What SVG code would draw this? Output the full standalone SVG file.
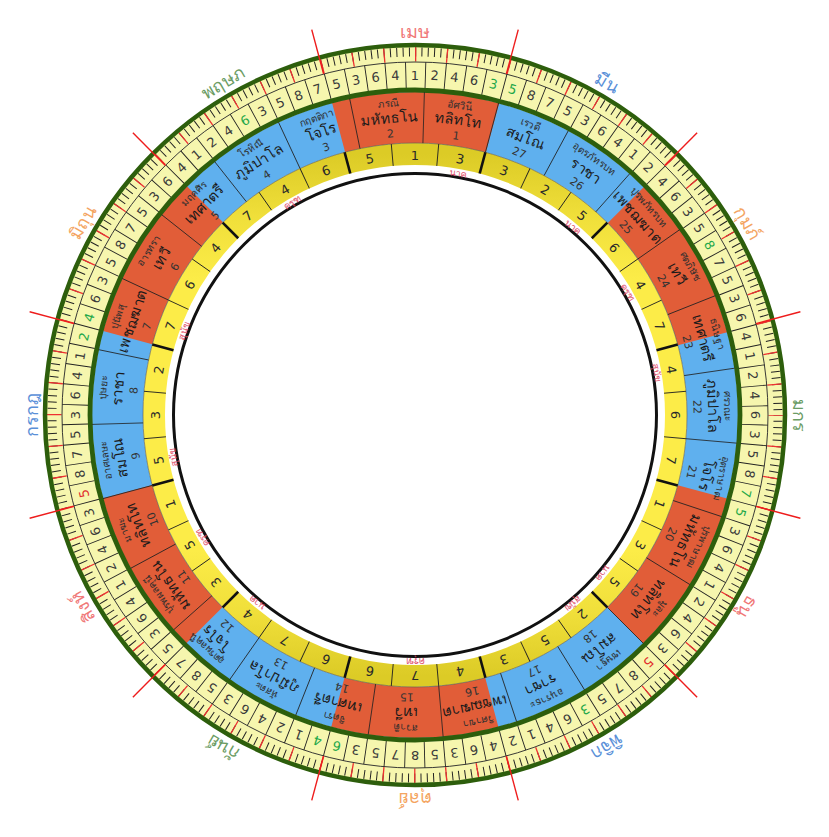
<svg xmlns="http://www.w3.org/2000/svg" width="829" height="837" viewBox="0 0 829 837">
<style>
text{font-family:'DejaVu Sans','Noto Sans',sans-serif;text-anchor:middle;dominant-baseline:central}
.d{font-size:13px;fill:#3a3a3a}
.g{fill:#1fa84a}
.r{fill:#e02a2a}
.y{font-size:13px;fill:#2a2a2a}
.yl{font-size:9.5px;fill:#e0506a}
.nm{font-size:10px;fill:#2e2e2e}
.wd{font-size:14.5px;fill:#1a1a1a}
.nu{font-size:11px;fill:#333}
.z{font-size:18px}
.fire{fill:#f07878}.water{fill:#5a90d8}.air{fill:#f4a562}.earth{fill:#6b9c64}
</style>
<defs>
<linearGradient id="yg" gradientUnits="userSpaceOnUse" x1="0" y1="154" x2="0" y2="676">
<stop offset="0" stop-color="#dccb26"/><stop offset="0.12" stop-color="#f0df3a"/><stop offset="0.24" stop-color="#fcec48"/><stop offset="0.76" stop-color="#fcec48"/><stop offset="0.88" stop-color="#f0df3a"/><stop offset="1" stop-color="#dccb26"/>
</linearGradient>
<line id="nb" x1="415" y1="143" x2="415" y2="92" stroke="#222" stroke-width="0.8"/>
<line id="yb" x1="415" y1="165" x2="415" y2="143" stroke="#222" stroke-width="0.9"/>
<line id="ybt" x1="415" y1="165" x2="415" y2="143" stroke="#111" stroke-width="2.6"/>
<line id="zl" x1="415" y1="62" x2="415" y2="16" stroke="#ee1c1c" stroke-width="1.4"/>
</defs>
<rect width="829" height="837" fill="#fff"/>
<g id="outer-rings" fill="none">
<circle cx="415" cy="415" r="361.5" stroke="#f6f6ae" stroke-width="17"/>
<circle cx="415" cy="415" r="340" stroke="#f6f6ae" stroke-width="26"/>
<circle cx="415" cy="415" r="363" stroke="#222" stroke-width="9" stroke-dasharray="1 5.33556" stroke-dashoffset="0.5"/>
<circle cx="415" cy="415" r="361" stroke="#ee3030" stroke-width="15" stroke-dasharray="1.3 30.2032" stroke-dashoffset="0.65"/>
<circle cx="415" cy="415" r="353" stroke="#222" stroke-width="0.9"/>
<circle cx="415" cy="415" r="340" stroke="#222" stroke-width="26" stroke-dasharray="0.9 18.8804" stroke-dashoffset="10.3402"/>
<circle cx="415" cy="415" r="370" stroke="#2d5e0c" stroke-width="4.5"/>
<circle cx="415" cy="415" r="297.5" stroke="#5fb0ee" stroke-width="51"/>
<circle cx="415" cy="415" r="297.5" stroke="#e15d38" stroke-width="51" stroke-dasharray="155.771 155.771" stroke-dashoffset="233.656"/>
<circle cx="415" cy="415" r="325" stroke="#2d5e0c" stroke-width="4.8"/>
<circle cx="415" cy="415" r="261" stroke="url(#yg)" stroke-width="22"/>
<circle cx="415" cy="415" r="272" stroke="#555" stroke-width="0.6"/>
<circle cx="415" cy="415" r="241.5" stroke="#111" stroke-width="3"/>
</g>
<g id="dividers">
<use href="#nb" transform="rotate(15 415 415)"/><use href="#nb" transform="rotate(28.333 415 415)"/><use href="#nb" transform="rotate(41.667 415 415)"/><use href="#nb" transform="rotate(55 415 415)"/><use href="#nb" transform="rotate(68.333 415 415)"/><use href="#nb" transform="rotate(81.667 415 415)"/><use href="#nb" transform="rotate(95 415 415)"/><use href="#nb" transform="rotate(108.333 415 415)"/><use href="#nb" transform="rotate(121.667 415 415)"/><use href="#nb" transform="rotate(135 415 415)"/><use href="#nb" transform="rotate(148.333 415 415)"/><use href="#nb" transform="rotate(161.667 415 415)"/><use href="#nb" transform="rotate(175 415 415)"/><use href="#nb" transform="rotate(188.333 415 415)"/><use href="#nb" transform="rotate(201.667 415 415)"/><use href="#nb" transform="rotate(215 415 415)"/><use href="#nb" transform="rotate(228.333 415 415)"/><use href="#nb" transform="rotate(241.667 415 415)"/><use href="#nb" transform="rotate(255 415 415)"/><use href="#nb" transform="rotate(268.333 415 415)"/><use href="#nb" transform="rotate(281.667 415 415)"/><use href="#nb" transform="rotate(295 415 415)"/><use href="#nb" transform="rotate(308.333 415 415)"/><use href="#nb" transform="rotate(321.667 415 415)"/><use href="#nb" transform="rotate(335 415 415)"/><use href="#nb" transform="rotate(348.333 415 415)"/><use href="#nb" transform="rotate(1.667 415 415)"/>
<use href="#yb" transform="rotate(5 415 415)"/><use href="#yb" transform="rotate(25 415 415)"/><use href="#yb" transform="rotate(35 415 415)"/><use href="#yb" transform="rotate(55 415 415)"/><use href="#yb" transform="rotate(65 415 415)"/><use href="#yb" transform="rotate(85 415 415)"/><use href="#yb" transform="rotate(95 415 415)"/><use href="#yb" transform="rotate(115 415 415)"/><use href="#yb" transform="rotate(125 415 415)"/><use href="#yb" transform="rotate(145 415 415)"/><use href="#yb" transform="rotate(155 415 415)"/><use href="#yb" transform="rotate(175 415 415)"/><use href="#yb" transform="rotate(185 415 415)"/><use href="#yb" transform="rotate(205 415 415)"/><use href="#yb" transform="rotate(215 415 415)"/><use href="#yb" transform="rotate(235 415 415)"/><use href="#yb" transform="rotate(245 415 415)"/><use href="#yb" transform="rotate(265 415 415)"/><use href="#yb" transform="rotate(275 415 415)"/><use href="#yb" transform="rotate(295 415 415)"/><use href="#yb" transform="rotate(305 415 415)"/><use href="#yb" transform="rotate(325 415 415)"/><use href="#yb" transform="rotate(335 415 415)"/><use href="#yb" transform="rotate(355 415 415)"/>
<use href="#ybt" transform="rotate(15 415 415)"/><use href="#ybt" transform="rotate(45 415 415)"/><use href="#ybt" transform="rotate(75 415 415)"/><use href="#ybt" transform="rotate(105 415 415)"/><use href="#ybt" transform="rotate(135 415 415)"/><use href="#ybt" transform="rotate(165 415 415)"/><use href="#ybt" transform="rotate(195 415 415)"/><use href="#ybt" transform="rotate(225 415 415)"/><use href="#ybt" transform="rotate(255 415 415)"/><use href="#ybt" transform="rotate(285 415 415)"/><use href="#ybt" transform="rotate(315 415 415)"/><use href="#ybt" transform="rotate(345 415 415)"/>
</g>
<g id="navamsa-digits">
<text class="d" x="415" y="75">1</text>
<text class="d" x="415" y="75" transform="rotate(3.33 415 415)">2</text>
<text class="d" x="415" y="75" transform="rotate(6.67 415 415)">4</text>
<text class="d" x="415" y="75" transform="rotate(10 415 415)">6</text>
<text class="d g" x="415" y="75" transform="rotate(13.33 415 415)">3</text>
<text class="d g" x="415" y="75" transform="rotate(16.67 415 415)">5</text>
<text class="d" x="415" y="75" transform="rotate(20 415 415)">8</text>
<text class="d" x="415" y="75" transform="rotate(23.33 415 415)">7</text>
<text class="d" x="415" y="75" transform="rotate(26.67 415 415)">5</text>
<text class="d" x="415" y="75" transform="rotate(30 415 415)">3</text>
<text class="d" x="415" y="75" transform="rotate(33.33 415 415)">6</text>
<text class="d" x="415" y="75" transform="rotate(36.67 415 415)">4</text>
<text class="d" x="415" y="75" transform="rotate(40 415 415)">1</text>
<text class="d" x="415" y="75" transform="rotate(43.33 415 415)">2</text>
<text class="d" x="415" y="75" transform="rotate(46.67 415 415)">4</text>
<text class="d" x="415" y="75" transform="rotate(50 415 415)">6</text>
<text class="d" x="415" y="75" transform="rotate(53.33 415 415)">3</text>
<text class="d" x="415" y="75" transform="rotate(56.67 415 415)">5</text>
<text class="d g" x="415" y="75" transform="rotate(60 415 415)">8</text>
<text class="d" x="415" y="75" transform="rotate(63.33 415 415)">7</text>
<text class="d" x="415" y="75" transform="rotate(66.67 415 415)">5</text>
<text class="d" x="415" y="75" transform="rotate(70 415 415)">3</text>
<text class="d" x="415" y="75" transform="rotate(73.33 415 415)">6</text>
<text class="d" x="415" y="75" transform="rotate(76.67 415 415)">4</text>
<text class="d" x="415" y="75" transform="rotate(80 415 415)">1</text>
<text class="d" x="415" y="75" transform="rotate(83.33 415 415)">2</text>
<text class="d" x="415" y="75" transform="rotate(86.67 415 415)">4</text>
<text class="d" x="415" y="75" transform="rotate(90 415 415)">6</text>
<text class="d" x="415" y="75" transform="rotate(93.33 415 415)">3</text>
<text class="d" x="415" y="75" transform="rotate(96.67 415 415)">5</text>
<text class="d" x="415" y="75" transform="rotate(100 415 415)">8</text>
<text class="d g" x="415" y="75" transform="rotate(103.33 415 415)">7</text>
<text class="d g" x="415" y="75" transform="rotate(106.67 415 415)">5</text>
<text class="d" x="415" y="75" transform="rotate(110 415 415)">3</text>
<text class="d" x="415" y="75" transform="rotate(113.33 415 415)">6</text>
<text class="d" x="415" y="75" transform="rotate(116.67 415 415)">4</text>
<text class="d" x="415" y="75" transform="rotate(120 415 415)">1</text>
<text class="d" x="415" y="75" transform="rotate(123.33 415 415)">2</text>
<text class="d" x="415" y="75" transform="rotate(126.67 415 415)">4</text>
<text class="d" x="415" y="75" transform="rotate(130 415 415)">6</text>
<text class="d" x="415" y="75" transform="rotate(133.33 415 415)">3</text>
<text class="d r" x="415" y="75" transform="rotate(136.67 415 415)">5</text>
<text class="d" x="415" y="75" transform="rotate(140 415 415)">8</text>
<text class="d" x="415" y="75" transform="rotate(143.33 415 415)">7</text>
<text class="d" x="415" y="75" transform="rotate(146.67 415 415)">5</text>
<text class="d g" x="415" y="75" transform="rotate(150 415 415)">3</text>
<text class="d" x="415" y="75" transform="rotate(153.33 415 415)">6</text>
<text class="d" x="415" y="75" transform="rotate(156.67 415 415)">4</text>
<text class="d" x="415" y="75" transform="rotate(160 415 415)">1</text>
<text class="d" x="415" y="75" transform="rotate(163.33 415 415)">2</text>
<text class="d" x="415" y="75" transform="rotate(166.67 415 415)">4</text>
<text class="d" x="415" y="75" transform="rotate(170 415 415)">6</text>
<text class="d" x="415" y="75" transform="rotate(173.33 415 415)">3</text>
<text class="d" x="415" y="75" transform="rotate(176.67 415 415)">5</text>
<text class="d" x="415" y="75" transform="rotate(180 415 415)">8</text>
<text class="d" x="415" y="75" transform="rotate(183.33 415 415)">7</text>
<text class="d" x="415" y="75" transform="rotate(186.67 415 415)">5</text>
<text class="d" x="415" y="75" transform="rotate(190 415 415)">3</text>
<text class="d g" x="415" y="75" transform="rotate(193.33 415 415)">6</text>
<text class="d g" x="415" y="75" transform="rotate(196.67 415 415)">4</text>
<text class="d" x="415" y="75" transform="rotate(200 415 415)">1</text>
<text class="d" x="415" y="75" transform="rotate(203.33 415 415)">2</text>
<text class="d" x="415" y="75" transform="rotate(206.67 415 415)">4</text>
<text class="d" x="415" y="75" transform="rotate(210 415 415)">6</text>
<text class="d" x="415" y="75" transform="rotate(213.33 415 415)">3</text>
<text class="d" x="415" y="75" transform="rotate(216.67 415 415)">5</text>
<text class="d" x="415" y="75" transform="rotate(220 415 415)">8</text>
<text class="d" x="415" y="75" transform="rotate(223.33 415 415)">7</text>
<text class="d" x="415" y="75" transform="rotate(226.67 415 415)">5</text>
<text class="d" x="415" y="75" transform="rotate(230 415 415)">3</text>
<text class="d" x="415" y="75" transform="rotate(233.33 415 415)">6</text>
<text class="d" x="415" y="75" transform="rotate(236.67 415 415)">4</text>
<text class="d" x="415" y="75" transform="rotate(240 415 415)">1</text>
<text class="d" x="415" y="75" transform="rotate(243.33 415 415)">2</text>
<text class="d" x="415" y="75" transform="rotate(246.67 415 415)">4</text>
<text class="d" x="415" y="75" transform="rotate(250 415 415)">6</text>
<text class="d" x="415" y="75" transform="rotate(253.33 415 415)">3</text>
<text class="d r" x="415" y="75" transform="rotate(256.67 415 415)">5</text>
<text class="d" x="415" y="75" transform="rotate(260 415 415)">8</text>
<text class="d" x="415" y="75" transform="rotate(263.33 415 415)">7</text>
<text class="d" x="415" y="75" transform="rotate(266.67 415 415)">5</text>
<text class="d" x="415" y="75" transform="rotate(270 415 415)">3</text>
<text class="d" x="415" y="75" transform="rotate(273.33 415 415)">6</text>
<text class="d" x="415" y="75" transform="rotate(276.67 415 415)">4</text>
<text class="d" x="415" y="75" transform="rotate(280 415 415)">1</text>
<text class="d g" x="415" y="75" transform="rotate(283.33 415 415)">2</text>
<text class="d g" x="415" y="75" transform="rotate(286.67 415 415)">4</text>
<text class="d" x="415" y="75" transform="rotate(290 415 415)">6</text>
<text class="d" x="415" y="75" transform="rotate(293.33 415 415)">3</text>
<text class="d" x="415" y="75" transform="rotate(296.67 415 415)">5</text>
<text class="d" x="415" y="75" transform="rotate(300 415 415)">8</text>
<text class="d" x="415" y="75" transform="rotate(303.33 415 415)">7</text>
<text class="d" x="415" y="75" transform="rotate(306.67 415 415)">5</text>
<text class="d" x="415" y="75" transform="rotate(310 415 415)">3</text>
<text class="d" x="415" y="75" transform="rotate(313.33 415 415)">6</text>
<text class="d" x="415" y="75" transform="rotate(316.67 415 415)">4</text>
<text class="d" x="415" y="75" transform="rotate(320 415 415)">1</text>
<text class="d" x="415" y="75" transform="rotate(323.33 415 415)">2</text>
<text class="d" x="415" y="75" transform="rotate(326.67 415 415)">4</text>
<text class="d g" x="415" y="75" transform="rotate(330 415 415)">6</text>
<text class="d" x="415" y="75" transform="rotate(333.33 415 415)">3</text>
<text class="d" x="415" y="75" transform="rotate(336.67 415 415)">5</text>
<text class="d" x="415" y="75" transform="rotate(340 415 415)">8</text>
<text class="d" x="415" y="75" transform="rotate(343.33 415 415)">7</text>
<text class="d" x="415" y="75" transform="rotate(346.67 415 415)">5</text>
<text class="d" x="415" y="75" transform="rotate(350 415 415)">3</text>
<text class="d" x="415" y="75" transform="rotate(353.33 415 415)">6</text>
<text class="d" x="415" y="75" transform="rotate(356.67 415 415)">4</text>
</g>
<g id="nakshatras">
<g id="n1" transform="rotate(8.333 415 415)"><text class="nm" x="415" y="102">อัศวินี</text><text class="wd" x="415" y="117">ทลิทโท</text><text class="nu" x="415" y="133">1</text></g>
<g id="n2" transform="rotate(355 415 415)"><text class="nm" x="415" y="102">ภรณี</text><text class="wd" x="415" y="117">มหัทธโน</text><text class="nu" x="415" y="133">2</text></g>
<g id="n3" transform="rotate(341.667 415 415)"><text class="nm" x="415" y="102">กฤตติกา</text><text class="wd" x="415" y="117">โจโร</text><text class="nu" x="415" y="133">3</text></g>
<g id="n4" transform="rotate(328.333 415 415)"><text class="nm" x="415" y="102">โรหิณี</text><text class="wd" x="415" y="117">ภูมิปาโล</text><text class="nu" x="415" y="133">4</text></g>
<g id="n5" transform="rotate(315 415 415)"><text class="nm" x="415" y="102">มฤคศิร</text><text class="wd" x="415" y="117">เทศาตรี</text><text class="nu" x="415" y="133">5</text></g>
<g id="n6" transform="rotate(301.667 415 415)"><text class="nm" x="415" y="102">อารทรา</text><text class="wd" x="415" y="117">เทวี</text><text class="nu" x="415" y="133">6</text></g>
<g id="n7" transform="rotate(288.333 415 415)"><text class="nm" x="415" y="102">ปุนัพสุ</text><text class="wd" x="415" y="117">เพชฌฆาต</text><text class="nu" x="415" y="133">7</text></g>
<g id="n8" transform="rotate(275 415 415)"><text class="nm" x="415" y="102">ปุษยะ</text><text class="wd" x="415" y="117">ราชา</text><text class="nu" x="415" y="133">8</text></g>
<g id="n9" transform="rotate(261.667 415 415)"><text class="nm" x="415" y="102">อาศเลษะ</text><text class="wd" x="415" y="117">สมโณ</text><text class="nu" x="415" y="133">9</text></g>
<g id="n10" transform="rotate(248.333 415 415)"><text class="nm" x="415" y="102">มาฆะ</text><text class="wd" x="415" y="117">ทลิทโท</text><text class="nu" x="415" y="133">10</text></g>
<g id="n11" transform="rotate(235 415 415)"><text class="nm" x="415" y="102">ปุรพผลคุนี</text><text class="wd" x="415" y="117">มหัทธโน</text><text class="nu" x="415" y="133">11</text></g>
<g id="n12" transform="rotate(221.667 415 415)"><text class="nm" x="415" y="102">อุตรผลคุนี</text><text class="wd" x="415" y="117">โจโร</text><text class="nu" x="415" y="133">12</text></g>
<g id="n13" transform="rotate(208.333 415 415)"><text class="nm" x="415" y="102">หัสตะ</text><text class="wd" x="415" y="117">ภูมิปาโล</text><text class="nu" x="415" y="133">13</text></g>
<g id="n14" transform="rotate(195 415 415)"><text class="nm" x="415" y="102">จิตรา</text><text class="wd" x="415" y="117">เทศาตรี</text><text class="nu" x="415" y="133">14</text></g>
<g id="n15" transform="rotate(181.667 415 415)"><text class="nm" x="415" y="102">สวาติ</text><text class="wd" x="415" y="117">เทวี</text><text class="nu" x="415" y="133">15</text></g>
<g id="n16" transform="rotate(168.333 415 415)"><text class="nm" x="415" y="102">วิศาขา</text><text class="wd" x="415" y="117">เพชฌฆาต</text><text class="nu" x="415" y="133">16</text></g>
<g id="n17" transform="rotate(155 415 415)"><text class="nm" x="415" y="102">อนุราธะ</text><text class="wd" x="415" y="117">ราชา</text><text class="nu" x="415" y="133">17</text></g>
<g id="n18" transform="rotate(141.667 415 415)"><text class="nm" x="415" y="102">เชษฐา</text><text class="wd" x="415" y="117">สมโณ</text><text class="nu" x="415" y="133">18</text></g>
<g id="n19" transform="rotate(128.333 415 415)"><text class="nm" x="415" y="102">มูละ</text><text class="wd" x="415" y="117">ทลิทโท</text><text class="nu" x="415" y="133">19</text></g>
<g id="n20" transform="rotate(115 415 415)"><text class="nm" x="415" y="102">ปุรพาษาฒ</text><text class="wd" x="415" y="117">มหัทธโน</text><text class="nu" x="415" y="133">20</text></g>
<g id="n21" transform="rotate(101.667 415 415)"><text class="nm" x="415" y="102">อุตราษาฒ</text><text class="wd" x="415" y="117">โจโร</text><text class="nu" x="415" y="133">21</text></g>
<g id="n22" transform="rotate(88.333 415 415)"><text class="nm" x="415" y="102">ศรวณะ</text><text class="wd" x="415" y="117">ภูมิปาโล</text><text class="nu" x="415" y="133">22</text></g>
<g id="n23" transform="rotate(75 415 415)"><text class="nm" x="415" y="102">ธนิษฐา</text><text class="wd" x="415" y="117">เทศาตรี</text><text class="nu" x="415" y="133">23</text></g>
<g id="n24" transform="rotate(61.667 415 415)"><text class="nm" x="415" y="102">ศตภิษัช</text><text class="wd" x="415" y="117">เทวี</text><text class="nu" x="415" y="133">24</text></g>
<g id="n25" transform="rotate(48.333 415 415)"><text class="nm" x="415" y="102">ปุรพภัทรบท</text><text class="wd" x="415" y="117">เพชฌฆาต</text><text class="nu" x="415" y="133">25</text></g>
<g id="n26" transform="rotate(35 415 415)"><text class="nm" x="415" y="102">อุตรภัทรบท</text><text class="wd" x="415" y="117">ราชา</text><text class="nu" x="415" y="133">26</text></g>
<g id="n27" transform="rotate(21.667 415 415)"><text class="nm" x="415" y="102">เรวดี</text><text class="wd" x="415" y="117">สมโณ</text><text class="nu" x="415" y="133">27</text></g>
</g>
<g id="decanates">
<text class="y" x="415" y="155">1</text>
<g transform="rotate(10 415 415)"><text class="y r" x="415" y="155">3</text><text class="yl" x="415" y="169">นาค</text></g>
<text class="y" x="415" y="155" transform="rotate(20 415 415)">3</text>
<text class="y" x="415" y="155" transform="rotate(30 415 415)">2</text>
<g transform="rotate(40 415 415)"><text class="y r" x="415" y="155">5</text><text class="yl" x="415" y="169">นาค</text></g>
<text class="y" x="415" y="155" transform="rotate(50 415 415)">6</text>
<g transform="rotate(60 415 415)"><text class="y r" x="415" y="155">4</text><text class="yl" x="415" y="169">ครุฑ</text></g>
<text class="y" x="415" y="155" transform="rotate(70 415 415)">7</text>
<g transform="rotate(80 415 415)"><text class="y r" x="415" y="155">4</text><text class="yl" x="415" y="169">สุนัข</text></g>
<text class="y" x="415" y="155" transform="rotate(90 415 415)">6</text>
<text class="y" x="415" y="155" transform="rotate(100 415 415)">7</text>
<text class="y" x="415" y="155" transform="rotate(110 415 415)">1</text>
<text class="y" x="415" y="155" transform="rotate(120 415 415)">3</text>
<g transform="rotate(130 415 415)"><text class="y r" x="415" y="155">5</text><text class="yl" x="415" y="169">นาค</text></g>
<g transform="rotate(140 415 415)"><text class="y r" x="415" y="155">2</text><text class="yl" x="415" y="169">สุนัข</text></g>
<text class="y" x="415" y="155" transform="rotate(150 415 415)">5</text>
<text class="y" x="415" y="155" transform="rotate(160 415 415)">3</text>
<text class="y" x="415" y="155" transform="rotate(170 415 415)">4</text>
<g transform="rotate(180 415 415)"><text class="y r" x="415" y="155">7</text><text class="yl" x="415" y="169">ครุฑ</text></g>
<text class="y" x="415" y="155" transform="rotate(190 415 415)">6</text>
<text class="y" x="415" y="155" transform="rotate(200 415 415)">6</text>
<text class="y" x="415" y="155" transform="rotate(210 415 415)">7</text>
<g transform="rotate(220 415 415)"><text class="y r" x="415" y="155">4</text><text class="yl" x="415" y="169">นาค</text></g>
<text class="y" x="415" y="155" transform="rotate(230 415 415)">3</text>
<g transform="rotate(240 415 415)"><text class="y r" x="415" y="155">5</text><text class="yl" x="415" y="169">ครุฑ</text></g>
<text class="y" x="415" y="155" transform="rotate(250 415 415)">1</text>
<g transform="rotate(260 415 415)"><text class="y r" x="415" y="155">5</text><text class="yl" x="415" y="169">สุนัข</text></g>
<text class="y" x="415" y="155" transform="rotate(270 415 415)">3</text>
<text class="y" x="415" y="155" transform="rotate(280 415 415)">2</text>
<g transform="rotate(290 415 415)"><text class="y r" x="415" y="155">7</text><text class="yl" x="415" y="169">สุนัข</text></g>
<text class="y" x="415" y="155" transform="rotate(300 415 415)">6</text>
<text class="y" x="415" y="155" transform="rotate(310 415 415)">4</text>
<text class="y" x="415" y="155" transform="rotate(320 415 415)">7</text>
<g transform="rotate(330 415 415)"><text class="y r" x="415" y="155">4</text><text class="yl" x="415" y="169">ครุฑ</text></g>
<text class="y" x="415" y="155" transform="rotate(340 415 415)">6</text>
<text class="y" x="415" y="155" transform="rotate(350 415 415)">5</text>
</g>
<g id="zodiac-lines">
<use href="#zl" transform="rotate(15 415 415)"/><use href="#zl" transform="rotate(45 415 415)"/><use href="#zl" transform="rotate(75 415 415)"/><use href="#zl" transform="rotate(105 415 415)"/><use href="#zl" transform="rotate(135 415 415)"/><use href="#zl" transform="rotate(165 415 415)"/><use href="#zl" transform="rotate(195 415 415)"/><use href="#zl" transform="rotate(225 415 415)"/><use href="#zl" transform="rotate(255 415 415)"/><use href="#zl" transform="rotate(285 415 415)"/><use href="#zl" transform="rotate(315 415 415)"/><use href="#zl" transform="rotate(345 415 415)"/>
</g>
<g id="zodiac-labels">
<text class="z fire" x="415" y="31">เมษ</text>
<text class="z water" x="415" y="31" transform="rotate(30 415 415)">มีน</text>
<text class="z air" x="415" y="31" transform="rotate(60 415 415)">กุมภ์</text>
<text class="z earth" x="415" y="31" transform="rotate(90 415 415)">มกร</text>
<text class="z fire" x="415" y="31" transform="rotate(120 415 415)">ธนู</text>
<text class="z water" x="415" y="31" transform="rotate(150 415 415)">พิจิก</text>
<text class="z air" x="415" y="31" transform="rotate(180 415 415)">ตุลย์</text>
<text class="z earth" x="415" y="31" transform="rotate(210 415 415)">กันย์</text>
<text class="z fire" x="415" y="31" transform="rotate(240 415 415)">สิงห์</text>
<text class="z water" x="415" y="31" transform="rotate(270 415 415)">กรกฎ</text>
<text class="z air" x="415" y="31" transform="rotate(300 415 415)">มิถุน</text>
<text class="z earth" x="415" y="31" transform="rotate(330 415 415)">พฤษภ</text>
</g>
</svg>
